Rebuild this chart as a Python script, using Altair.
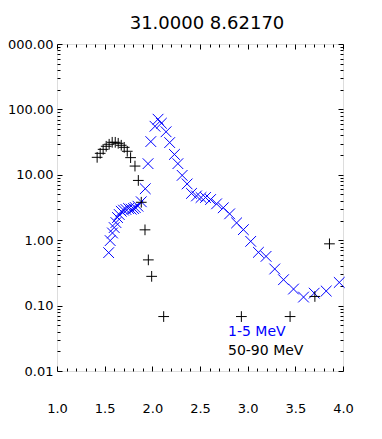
import altair as alt
import pandas as pd

# ---- data ----
blue_x = [1.542, 1.558, 1.582, 1.600, 1.618, 1.635, 1.653, 1.674, 1.698, 1.723,
          1.751, 1.779, 1.803, 1.821, 1.849, 1.884, 1.926, 1.955, 1.984, 2.028,
          2.060, 2.095, 2.144, 2.182, 2.232, 2.268, 2.313, 2.365, 2.411, 2.463,
          2.511, 2.558, 2.611, 2.674, 2.744, 2.811, 2.884, 2.955, 3.032, 3.113,
          3.193, 3.284, 3.376, 3.481, 3.586, 3.698, 3.824, 3.961]
blue_y = [0.645, 0.986, 1.29, 1.56, 1.86, 2.22, 2.47, 2.77, 2.88, 2.95,
          3.05, 2.98, 3.05, 3.16, 3.31, 3.87, 6.12, 14.8, 32.2, 55.2,
          70.8, 61.4, 45.5, 31.1, 20.5, 14.8, 9.8, 7.25, 5.19, 4.75,
          4.50, 4.50, 4.19, 3.60, 3.13, 2.53, 1.84, 1.45, 0.96, 0.652,
          0.566, 0.363, 0.249, 0.179, 0.135, 0.155, 0.167, 0.226]

black_x = [1.421, 1.453, 1.484, 1.516, 1.547, 1.579, 1.611, 1.642, 1.674, 1.705,
           1.737, 1.772, 1.818, 1.853, 1.884, 1.923, 1.958, 1.993, 2.119, 2.934,
           3.445, 3.705, 3.858]
black_y = [18.5, 21.3, 24.5, 27.3, 29.3, 31.4, 31.4, 30.3, 28.3, 26.3,
           22.9, 18.3, 13.6, 8.2, 3.8, 1.44, 0.50, 0.28, 0.068, 0.068,
           0.068, 0.138, 0.88]

x_major = [1.0, 1.5, 2.0, 2.5, 3.0, 3.5, 4.0]
x_minor = [round(1.0 + 0.1 * i, 1) for i in range(31) if i % 5 != 0]
y_major = [0.01, 0.1, 1.0, 10.0, 100.0, 1000.0]
y_minor = [m * 10.0 ** e for e in range(-2, 3) for m in range(2, 10)]

title_text = "31.0000 8.62170"
legend_labels = ["1-5 MeV", "50-90 MeV"]

W, H = 286, 327
FONT = "DejaVu Sans"

blue = pd.DataFrame({"x": blue_x, "y": blue_y})
black = pd.DataFrame({"x": black_x, "y": black_y})

xs = alt.Scale(domain=[1.0, 4.0], nice=False, zero=False)
ys = alt.Scale(type="log", domain=[0.01, 1000], nice=False)

X_PATH = "M-1,-1L1,1M-1,1L1,-1"
P_PATH = "M-1,0L1,0M0,-1L0,1"


def ax(orient, values, size, labels=False, offset=0, fmt=None, pad=0):
    kw = dict(orient=orient, values=values, tickSize=size, labels=labels,
              domain=False, grid=False, title=None, offset=offset,
              tickColor="black", tickWidth=1)
    if labels:
        kw.update(format=fmt, labelFont=FONT, labelFontSize=13,
                  labelColor="black", labelPadding=pad, labelFlush=False,
                  labelOverlap=False)
    return alt.Axis(**kw)


def layer(df, axx, axy, color, path, opacity=1.0):
    return alt.Chart(df).mark_point(
        shape=path, filled=False, size=115, strokeWidth=1, opacity=opacity
    ).encode(
        x=alt.X("x:Q", scale=xs, axis=axx),
        y=alt.Y("y:Q", scale=ys, axis=axy),
        color=alt.value(color),
    )


l1 = layer(blue,
           ax("bottom", x_major, 0, labels=True, fmt=".1f", pad=31),
           ax("left", y_major, 0, labels=True, fmt=".2f", pad=4),
           "#0000ff", X_PATH)
l2 = layer(black,
           ax("top", x_major, 5, offset=-H),
           ax("right", y_major, 5, offset=-W),
           "black", P_PATH)
l3 = layer(blue,
           ax("top", x_minor, 3, offset=-H),
           ax("right", y_minor, 3, offset=-W),
           "black", X_PATH, opacity=0)
l4 = layer(blue,
           ax("bottom", x_major, 5, offset=-H),
           ax("left", y_major, 5, offset=-W),
           "black", X_PATH, opacity=0)
l5 = layer(blue,
           ax("bottom", x_minor, 3, offset=-H),
           ax("left", y_minor, 3, offset=-W),
           "black", X_PATH, opacity=0)

t1 = alt.Chart(pd.DataFrame({"t": [legend_labels[0]]})).mark_text(
    align="left", baseline="middle", font=FONT, fontSize=14, color="#0000ff"
).encode(text="t:N", x=alt.value(171), y=alt.value(288))
t2 = alt.Chart(pd.DataFrame({"t": [legend_labels[1]]})).mark_text(
    align="left", baseline="middle", font=FONT, fontSize=14, color="black"
).encode(text="t:N", x=alt.value(171), y=alt.value(307))

chart = alt.layer(l1, l2, l3, l4, l5, t1, t2).resolve_axis(
    x="independent", y="independent"
).properties(
    width=W, height=H,
    title=alt.TitleParams(title_text, font=FONT, fontSize=18, fontWeight="normal",
                          color="black", anchor="middle", offset=5, dx=7),
    padding={"left": 49, "top": 36, "right": 20, "bottom": 50},
    autosize="none",
).configure_view(stroke="black", strokeWidth=1).configure(background="white")

chart.save("out.html", embed_options={"renderer": "svg", "actions": False})
